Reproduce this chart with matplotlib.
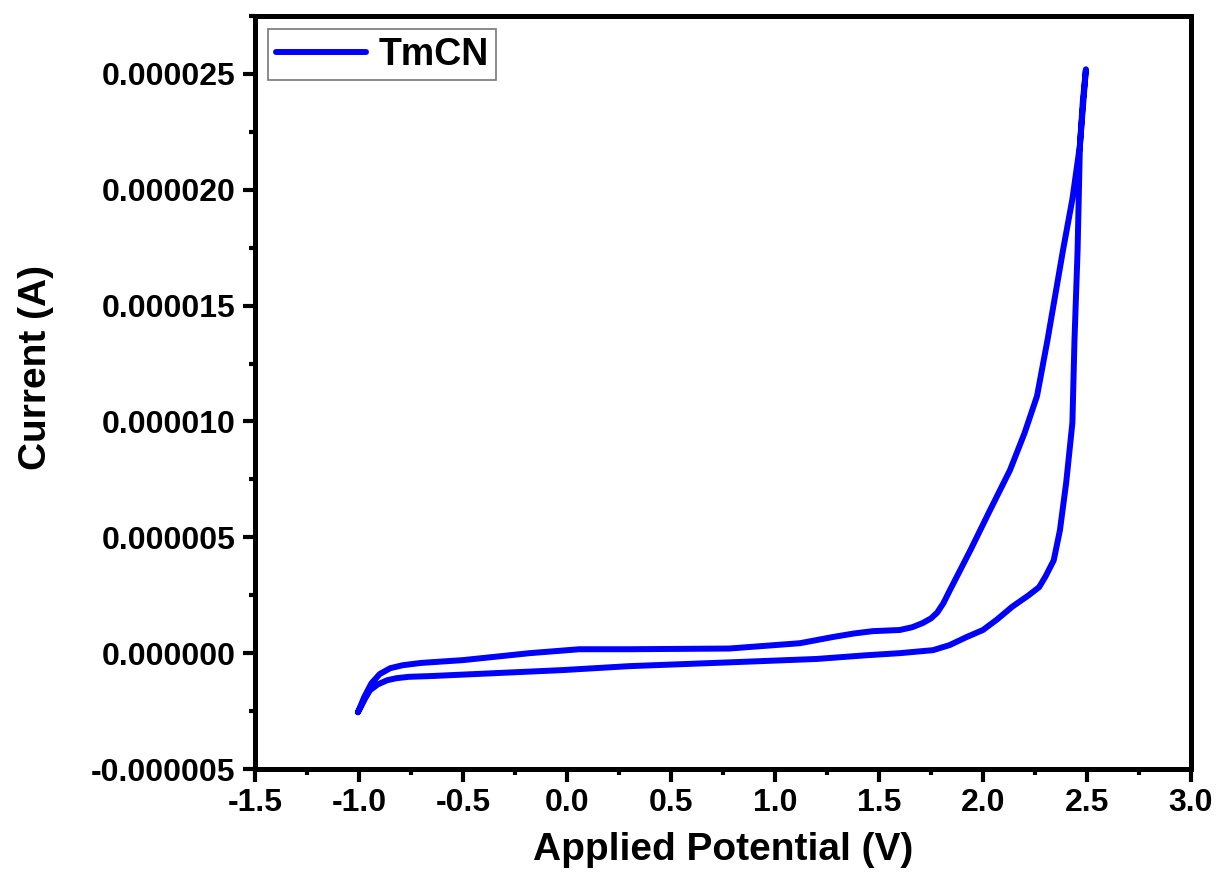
#!/usr/bin/env python3
import numpy as np
import matplotlib
matplotlib.use("Agg")
import matplotlib.pyplot as plt
from matplotlib.ticker import MultipleLocator, FormatStrFormatter

plt.rcParams["font.family"] = ["Liberation Sans", "DejaVu Sans"]
plt.rcParams["font.weight"] = "bold"

# ============================================================
# CV DATA (potential in V, current in A) - one closed loop
# ============================================================

# sweep from -1.0 V up along the lower branch to the 2.5 V vertex
potential_fwd = [-1.005, -0.99, -0.97, -0.947, -0.91, -0.865, -0.82, -0.76, -0.66,
                 -0.34, -0.02, 0.30, 0.80, 1.20, 1.44, 1.60, 1.76, 1.84, 1.92,
                 2.00, 2.07, 2.14, 2.22, 2.27, 2.30, 2.34, 2.37, 2.40, 2.43, 2.44,
                 2.455, 2.466, 2.48, 2.495]
current_fwd = np.array([-2.55, -2.3, -1.95, -1.6, -1.35, -1.17, -1.08, -1.02, -0.99,
                        -0.86, -0.73, -0.56, -0.39, -0.25, -0.09, 0.0, 0.13, 0.35, 0.69,
                        1.0, 1.47, 2.0, 2.5, 2.85, 3.3, 4.0, 5.3, 7.35, 9.94, 13.5,
                        17.4, 21.9, 23.8, 25.2]) * 1e-6

# return sweep from the vertex back to -1.0 V along the upper branch
potential_rev = [2.495, 2.466, 2.43, 2.385, 2.31, 2.26, 2.20, 2.13, 2.08, 2.03, 1.94,
                 1.84, 1.81, 1.78, 1.75, 1.71, 1.66, 1.60, 1.47, 1.38, 1.28, 1.12,
                 0.78, 0.30, 0.06, -0.18, -0.5, -0.70, -0.79, -0.85, -0.90, -0.94,
                 -0.975, -1.005]
current_rev = np.array([25.2, 21.9, 19.6, 17.4, 13.5, 11.1, 9.5, 7.9, 7.0, 6.1, 4.45,
                        2.7, 2.16, 1.75, 1.5, 1.3, 1.12, 1.0, 0.95, 0.85, 0.7, 0.43,
                        0.2, 0.17, 0.17, 0.0, -0.3, -0.42, -0.52, -0.65, -0.9, -1.3,
                        -1.9, -2.55]) * 1e-6

potential = np.concatenate([potential_fwd, potential_rev[1:]])
current = np.concatenate([current_fwd, current_rev[1:]])

# ============================================================
# PLOT
# ============================================================

fig = plt.figure(figsize=(12.17, 8.94), dpi=100)
ax = fig.add_axes([0.2095, 0.1398, 0.7691, 0.8423])

ax.plot(potential, current, color="#0000ff", lw=4.3, label="TmCN",
        solid_joinstyle="round", solid_capstyle="round")

ax.set_xlim(-1.5, 3.0)
ax.set_ylim(-5e-6, 27.5e-6)

ax.xaxis.set_major_locator(MultipleLocator(0.5))
ax.xaxis.set_minor_locator(MultipleLocator(0.25))
ax.yaxis.set_major_locator(MultipleLocator(5e-6))
ax.yaxis.set_minor_locator(MultipleLocator(2.5e-6))
ax.xaxis.set_major_formatter(FormatStrFormatter("%.1f"))
ax.yaxis.set_major_formatter(FormatStrFormatter("%.6f"))

for sp in ax.spines.values():
    sp.set_linewidth(3.6)
ax.tick_params(which="major", direction="out", length=9, width=3, labelsize=23, pad=5)
ax.tick_params(which="minor", direction="out", length=4.5, width=3)
ax.tick_params(top=False, right=False, which="both")
for lab in ax.get_xticklabels() + ax.get_yticklabels():
    lab.set_fontweight("bold")

ax.set_xlabel("Applied Potential (V)", fontsize=28, fontweight="bold", labelpad=10)
ax.set_ylabel("Current (A)", fontsize=28, fontweight="bold")
ax.yaxis.set_label_coords(-0.215, 0.533)

leg = ax.legend(loc="upper left", fontsize=27, frameon=True, fancybox=False,
                handlelength=2.4, handletextpad=0.35, borderpad=0.2,
                borderaxespad=0.35)
leg.get_frame().set_edgecolor("#555555")
leg.get_frame().set_linewidth(1.2)
for t in leg.get_texts():
    t.set_fontweight("bold")

fig.savefig("out.png", dpi=100)
